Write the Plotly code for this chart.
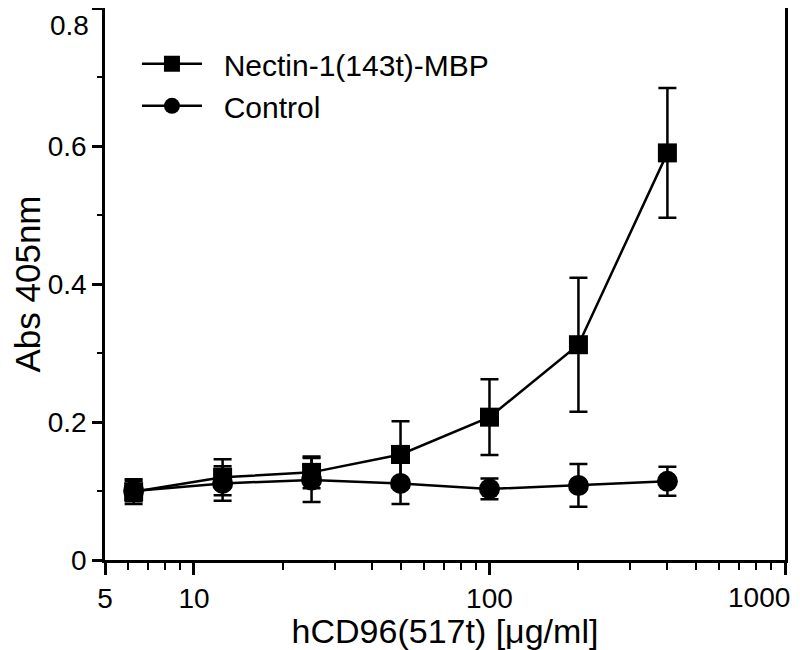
import math
import plotly.graph_objects as go

conc = [6.25, 12.5, 25, 50, 100, 200, 400]
nectin = [0.099, 0.120, 0.127, 0.153, 0.207, 0.312, 0.590]
nectin_err = [0.018, 0.026, 0.023, 0.048, 0.055, 0.097, 0.094]
control = [0.100, 0.111, 0.116, 0.111, 0.103, 0.108, 0.114]
control_err = [0.015, 0.025, 0.032, 0.030, 0.015, 0.031, 0.021]

x_ticks = [5, 10, 100, 1000]
x_labels = ["5", "10", "100", "1000"]
x_minor = [6, 7, 8, 9, 20, 30, 40, 50, 60, 70, 80, 90, 200, 300, 400, 500, 600, 700, 800, 900]
y_ticks = [0, 0.2, 0.4, 0.6, 0.8]
y_labels = ["0", "0.2", "0.4", "0.6", "0.8"]

FONT = "Arial, Liberation Sans, sans-serif"
TICK_SIZE = 28
NBSP = "\u00a0"

fig = go.Figure()
fig.add_trace(go.Scatter(
    x=conc, y=nectin, name=NBSP * 2 + "Nectin-1(143t)-MBP", mode="lines+markers",
    line=dict(color="black", width=2.5),
    marker=dict(symbol="square", size=19, color="black"),
    error_y=dict(type="data", array=nectin_err, color="black", thickness=2.5, width=9),
))
fig.add_trace(go.Scatter(
    x=conc, y=control, name=NBSP * 2 + "Control", mode="lines+markers",
    line=dict(color="black", width=2.5),
    marker=dict(symbol="circle", size=21, color="black"),
    error_y=dict(type="data", array=control_err, color="black", thickness=2.5, width=9),
))

# Edge tick labels (the reference shifts them inward to stay inside the page)
fig.add_annotation(x=0, xref="paper", y=y_ticks[-1], yref="y", text=y_labels[-1],
                   showarrow=False, xanchor="right", yanchor="top",
                   xshift=-14, yshift=0, font=dict(size=TICK_SIZE))
fig.add_annotation(x=math.log10(x_ticks[-1]), xref="x", y=0, yref="paper", text=x_labels[-1],
                   showarrow=False, xanchor="right", yanchor="middle",
                   xshift=7, yshift=-37, font=dict(size=TICK_SIZE))

# page body has an 8px margin, so the figure is sized to fill the rest
fig.update_layout(
    width=792, height=642,
    margin=dict(l=97, r=15, t=0, b=90, autoexpand=False),
    paper_bgcolor="white", plot_bgcolor="white",
    font=dict(family=FONT, size=TICK_SIZE, color="black"),
    showlegend=True,
    legend=dict(x=0.047, y=0.946, xanchor="left", yanchor="top",
                font=dict(size=30), bgcolor="rgba(0,0,0,0)", itemwidth=60,
                tracegroupgap=0),
)
fig.update_xaxes(
    type="log", range=[math.log10(5), 3],
    tickvals=x_ticks, ticktext=x_labels[:-1] + [""],
    ticks="outside", ticklen=12, tickwidth=2.5, tickcolor="black",
    minor=dict(tickvals=x_minor, ticks="outside", ticklen=7, tickwidth=2, tickcolor="black"),
    showline=True, linecolor="black", linewidth=2.5, mirror=True,
    showgrid=False, zeroline=False, automargin=False,
    title=dict(text="hCD96(517t) [μg/ml]", font=dict(size=34), standoff=0),
    tickfont=dict(size=TICK_SIZE),
)
fig.update_yaxes(
    range=[0, 0.8], tickvals=y_ticks, ticktext=y_labels[:-1] + [""],
    ticks="outside", ticklen=10, tickwidth=2.5, tickcolor="black",
    minor=dict(dtick=0.1, ticks="outside", ticklen=5, tickwidth=2, tickcolor="black"),
    showline=True, linecolor="black", linewidth=2.5, mirror=True,
    showgrid=False, zeroline=False, automargin=False,
    title=dict(text="Abs 405nm", font=dict(size=35), standoff=8),
    tickfont=dict(size=TICK_SIZE),
)

fig.write_html("out.html")
